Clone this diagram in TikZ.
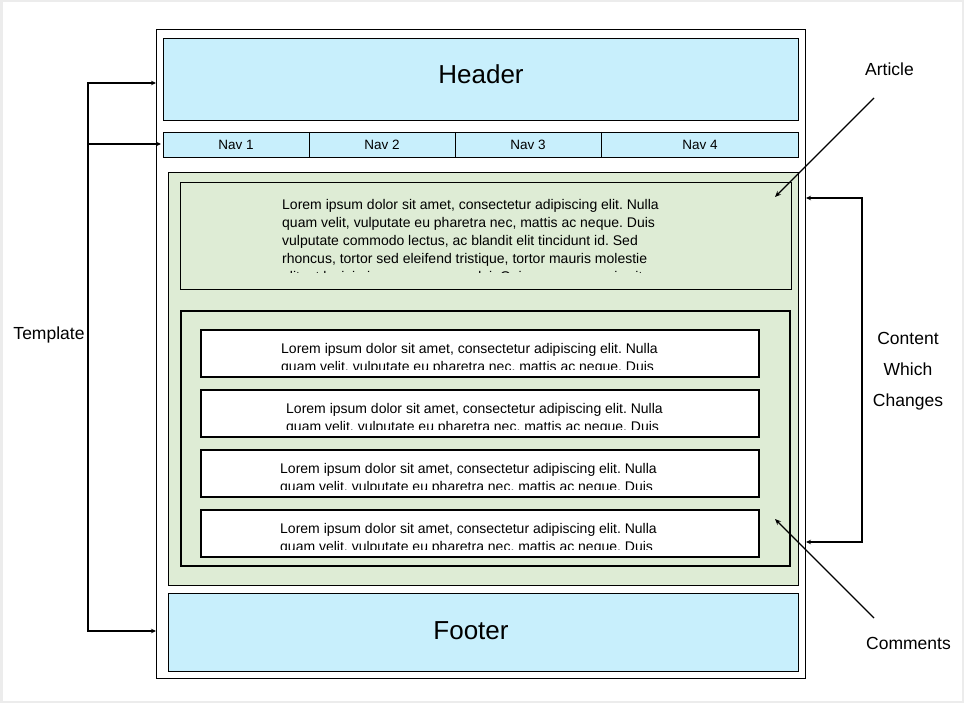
\documentclass[tikz,border=0pt]{standalone}
\usepackage{fontspec}
\setmainfont{Liberation Sans}
\usetikzlibrary{arrows.meta}
\definecolor{hdrblue}{RGB}{200,239,252}
\definecolor{bodygreen}{RGB}{222,236,213}
\frenchspacing
\tikzset{
	blockbox/.style={draw=black,line width=0.8pt},
	thickbox/.style={draw=black,line width=1.8pt},
	lorem/.style={anchor=base west,inner sep=0pt,font=\fontsize{14}{18}\selectfont},
	navtext/.style={anchor=base,inner sep=0pt,font=\fontsize{13.5}{16}\selectfont},
	bigtext/.style={anchor=base,inner sep=0pt,font=\fontsize{26}{30}\selectfont},
	callout/.style={inner sep=0pt,font=\fontsize{17.5}{31}\selectfont},
	brace/.style={line width=1.7pt,{Stealth[length=5pt,width=4.5pt]}-{Stealth[length=5pt,width=4.5pt]}},
	pointer/.style={line width=1.3pt,-{Stealth[length=6pt,width=5pt]}}
}
\begin{document}
\begin{tikzpicture}[x=1pt,y=-1pt]
	\useasboundingbox (0,0) rectangle (964,703);
	% Frame
	\draw[line width=2.5pt,gray!15] (1.25,1.25) rectangle (962.75,701.75);
	% Page
	\draw[blockbox] (156,29) rectangle (805,678);
	% Header
	\draw[blockbox,fill=hdrblue] (163,38) rectangle (798,120);
	\node[bigtext] (header) at (481,84) {Header};
	% Nav
	\draw[blockbox,fill=hdrblue] (163,132) rectangle (798,157);
	\foreach \x in {309,455,601} \draw[blockbox] (\x,132) -- (\x,157);
	\foreach \x/\n in {236/1,382/2,528/3,700/4}
		\node[navtext] (nav\n) at (\x,150) {Nav \n};
	% Content
	\draw[blockbox,fill=bodygreen] (168,172) rectangle (798,585);
	% Article
	\draw[blockbox] (180,182) rectangle (791,289);
	\begin{scope}
		\clip (180,182) rectangle (791,273);
		\foreach \t [count=\i] in {{Lorem ipsum dolor sit amet, consectetur adipiscing elit. Nulla},
			{quam velit, vulputate eu pharetra nec, mattis ac neque. Duis},
			{vulputate commodo lectus, ac blandit elit tincidunt id. Sed},
			{rhoncus, tortor sed eleifend tristique, tortor mauris molestie},
			{elit, et lacinia ipsum quam nec dui. Quisque nec mauris sit}}
			\node[lorem] (artline\i) at (282,{192+18*\i}) {\t};
	\end{scope}
	% Comments
	\draw[thickbox] (181,311) rectangle (790,566);
	\foreach \k/\tx in {0/281,1/286,2/280,3/280} {
		\draw[thickbox,fill=white] (201,{330+60*\k}) rectangle (759,{377+60*\k});
		\begin{scope}
			\clip (201,{330+60*\k}) rectangle (759,{369+60*\k});
			\node[lorem] (cmtA\k) at (\tx,{353+60*\k}) {Lorem ipsum dolor sit amet, consectetur adipiscing elit. Nulla};
			\node[lorem] (cmtB\k) at (\tx,{371+60*\k}) {quam velit, vulputate eu pharetra nec, mattis ac neque. Duis};
		\end{scope}
	}
	% Footer
	\draw[blockbox,fill=hdrblue] (168,593) rectangle (798,671);
	\node[bigtext] (footer) at (471,639) {Footer};
	% Template
	\node[callout,anchor=base] (template) at (49,340) {Template};
	\coordinate (pageTop) at (156,83);
	\coordinate (navIn) at (161,144);
	\coordinate (pageBot) at (156,631);
	\draw[brace] (pageTop) -- (88,83) -- (88,631) -- (pageBot);
	\draw[line width=1.7pt,-{Stealth[length=5pt,width=4.5pt]}] (88,144) -- (navIn);
	% Content which changes
	\node[callout,align=center] (changes) at (908,371) {Content\\Which\\Changes};
	\coordinate (cntTop) at (806,198);
	\coordinate (cntBot) at (806,542);
	\draw[brace] (cntTop) -- (862,198) -- (862,542) -- (cntBot);
	% Article and Comments
	\node[callout,anchor=base] (articlelbl) at (889.5,76) {Article};
	\coordinate (artTail) at (874,98);
	\coordinate (artTip) at (775,197);
	\draw[pointer] (artTail) -- (artTip);
	\node[callout,anchor=base] (commentslbl) at (908.5,649) {Comments};
	\coordinate (cmtTail) at (874,618);
	\coordinate (cmtTip) at (775,519);
	\draw[pointer] (cmtTail) -- (cmtTip);
\end{tikzpicture}
\end{document}
